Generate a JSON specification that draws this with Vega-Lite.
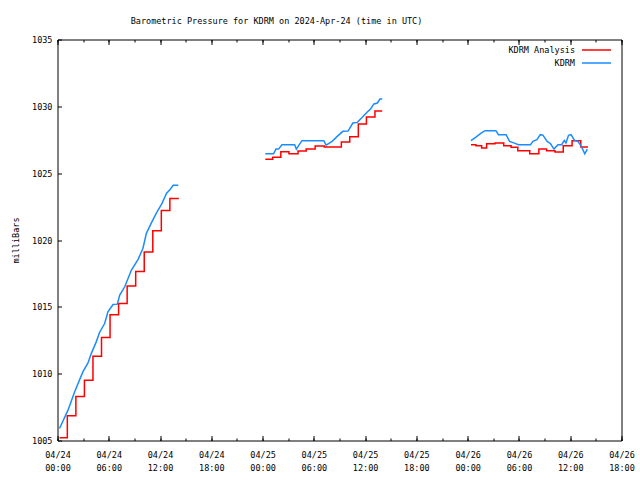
{
  "$schema": "https://vega.github.io/schema/vega-lite/v6.json",
  "width": 564,
  "height": 401,
  "autosize": {"type": "none"},
  "padding": {"left": 57.5, "top": 39.5, "right": 18.5, "bottom": 39.5},
  "background": "white",
  "config": {
    "view": {"stroke": "#000000", "strokeWidth": 1},
    "font": "DejaVu Sans Mono",
    "axis": {
      "labelFont": "DejaVu Sans Mono", "labelFontSize": 8.5, "labelColor": "#000000",
      "tickColor": "#000000", "tickWidth": 1, "domain": false, "grid": false,
      "titleFont": "DejaVu Sans Mono", "titleFontSize": 8.5, "titleFontWeight": "normal", "titleColor": "#000000"
    },
    "legend": {
      "orient": "none", "legendX": 533, "legendY": 4.5, "title": null,
      "symbolType": "M-2.9,0H2.9", "symbolSize": 100, "symbolStrokeWidth": 1.5,
      "labelAlign": "right", "labelOffset": -27.5, "rowPadding": 2,
      "labelFont": "DejaVu Sans Mono", "labelFontSize": 8.5, "labelColor": "#000000", "padding": 0
    }
  },
  "title": {
    "text": "Barometric Pressure for KDRM on 2024-Apr-24 (time in UTC)",
    "font": "DejaVu Sans Mono", "fontSize": 8.5, "fontWeight": "normal", "color": "#000000",
    "anchor": "middle", "dx": -63, "offset": 3, "baseline": "alphabetic"
  },
  "data": {"values": [
    {"time": "2024-04-24T00:14:00Z", "pressure": 1005.2, "series": "KDRM Analysis", "seg": 1},
    {"time": "2024-04-24T01:09:00Z", "pressure": 1006.85, "series": "KDRM Analysis", "seg": 1},
    {"time": "2024-04-24T02:09:00Z", "pressure": 1008.3, "series": "KDRM Analysis", "seg": 1},
    {"time": "2024-04-24T03:09:00Z", "pressure": 1009.5, "series": "KDRM Analysis", "seg": 1},
    {"time": "2024-04-24T04:09:00Z", "pressure": 1011.3, "series": "KDRM Analysis", "seg": 1},
    {"time": "2024-04-24T05:09:00Z", "pressure": 1012.7, "series": "KDRM Analysis", "seg": 1},
    {"time": "2024-04-24T06:09:00Z", "pressure": 1014.4, "series": "KDRM Analysis", "seg": 1},
    {"time": "2024-04-24T07:09:00Z", "pressure": 1015.25, "series": "KDRM Analysis", "seg": 1},
    {"time": "2024-04-24T08:09:00Z", "pressure": 1016.55, "series": "KDRM Analysis", "seg": 1},
    {"time": "2024-04-24T09:09:00Z", "pressure": 1017.65, "series": "KDRM Analysis", "seg": 1},
    {"time": "2024-04-24T10:09:00Z", "pressure": 1019.1, "series": "KDRM Analysis", "seg": 1},
    {"time": "2024-04-24T11:09:00Z", "pressure": 1020.7, "series": "KDRM Analysis", "seg": 1},
    {"time": "2024-04-24T12:09:00Z", "pressure": 1022.2, "series": "KDRM Analysis", "seg": 1},
    {"time": "2024-04-24T13:09:00Z", "pressure": 1023.1, "series": "KDRM Analysis", "seg": 1},
    {"time": "2024-04-24T14:12:00Z", "pressure": 1023.1, "series": "KDRM Analysis", "seg": 1},

    {"time": "2024-04-25T00:19:00Z", "pressure": 1026.05, "series": "KDRM Analysis", "seg": 2},
    {"time": "2024-04-25T01:11:00Z", "pressure": 1026.2, "series": "KDRM Analysis", "seg": 2},
    {"time": "2024-04-25T02:08:00Z", "pressure": 1026.6, "series": "KDRM Analysis", "seg": 2},
    {"time": "2024-04-25T03:05:00Z", "pressure": 1026.45, "series": "KDRM Analysis", "seg": 2},
    {"time": "2024-04-25T04:09:00Z", "pressure": 1026.65, "series": "KDRM Analysis", "seg": 2},
    {"time": "2024-04-25T05:06:00Z", "pressure": 1026.8, "series": "KDRM Analysis", "seg": 2},
    {"time": "2024-04-25T06:09:00Z", "pressure": 1027.03, "series": "KDRM Analysis", "seg": 2},
    {"time": "2024-04-25T07:13:00Z", "pressure": 1026.95, "series": "KDRM Analysis", "seg": 2},
    {"time": "2024-04-25T09:13:00Z", "pressure": 1027.33, "series": "KDRM Analysis", "seg": 2},
    {"time": "2024-04-25T10:12:00Z", "pressure": 1027.73, "series": "KDRM Analysis", "seg": 2},
    {"time": "2024-04-25T11:12:00Z", "pressure": 1028.68, "series": "KDRM Analysis", "seg": 2},
    {"time": "2024-04-25T12:09:00Z", "pressure": 1029.2, "series": "KDRM Analysis", "seg": 2},
    {"time": "2024-04-25T13:09:00Z", "pressure": 1029.65, "series": "KDRM Analysis", "seg": 2},
    {"time": "2024-04-25T14:00:00Z", "pressure": 1029.65, "series": "KDRM Analysis", "seg": 2},

    {"time": "2024-04-26T00:23:00Z", "pressure": 1027.13, "series": "KDRM Analysis", "seg": 3},
    {"time": "2024-04-26T00:58:00Z", "pressure": 1027.05, "series": "KDRM Analysis", "seg": 3},
    {"time": "2024-04-26T01:38:00Z", "pressure": 1026.88, "series": "KDRM Analysis", "seg": 3},
    {"time": "2024-04-26T02:13:00Z", "pressure": 1027.2, "series": "KDRM Analysis", "seg": 3},
    {"time": "2024-04-26T03:12:00Z", "pressure": 1027.25, "series": "KDRM Analysis", "seg": 3},
    {"time": "2024-04-26T04:13:00Z", "pressure": 1027.05, "series": "KDRM Analysis", "seg": 3},
    {"time": "2024-04-26T05:05:00Z", "pressure": 1026.93, "series": "KDRM Analysis", "seg": 3},
    {"time": "2024-04-26T05:52:00Z", "pressure": 1026.68, "series": "KDRM Analysis", "seg": 3},
    {"time": "2024-04-26T07:16:00Z", "pressure": 1026.45, "series": "KDRM Analysis", "seg": 3},
    {"time": "2024-04-26T08:20:00Z", "pressure": 1026.8, "series": "KDRM Analysis", "seg": 3},
    {"time": "2024-04-26T09:14:00Z", "pressure": 1026.68, "series": "KDRM Analysis", "seg": 3},
    {"time": "2024-04-26T10:13:00Z", "pressure": 1026.58, "series": "KDRM Analysis", "seg": 3},
    {"time": "2024-04-26T11:11:00Z", "pressure": 1027.05, "series": "KDRM Analysis", "seg": 3},
    {"time": "2024-04-26T12:13:00Z", "pressure": 1027.43, "series": "KDRM Analysis", "seg": 3},
    {"time": "2024-04-26T13:14:00Z", "pressure": 1026.95, "series": "KDRM Analysis", "seg": 3},
    {"time": "2024-04-26T14:05:00Z", "pressure": 1026.95, "series": "KDRM Analysis", "seg": 3},

    {"time": "2024-04-24T00:14:00Z", "pressure": 1005.9, "series": "KDRM", "seg": 1},
    {"time": "2024-04-24T01:13:00Z", "pressure": 1007.25, "series": "KDRM", "seg": 1},
    {"time": "2024-04-24T02:00:00Z", "pressure": 1008.63, "series": "KDRM", "seg": 1},
    {"time": "2024-04-24T02:58:00Z", "pressure": 1010.13, "series": "KDRM", "seg": 1},
    {"time": "2024-04-24T03:34:00Z", "pressure": 1010.8, "series": "KDRM", "seg": 1},
    {"time": "2024-04-24T03:57:00Z", "pressure": 1011.5, "series": "KDRM", "seg": 1},
    {"time": "2024-04-24T04:32:00Z", "pressure": 1012.38, "series": "KDRM", "seg": 1},
    {"time": "2024-04-24T04:56:00Z", "pressure": 1013.1, "series": "KDRM", "seg": 1},
    {"time": "2024-04-24T05:31:00Z", "pressure": 1013.75, "series": "KDRM", "seg": 1},
    {"time": "2024-04-24T05:54:00Z", "pressure": 1014.63, "series": "KDRM", "seg": 1},
    {"time": "2024-04-24T06:30:00Z", "pressure": 1015.17, "series": "KDRM", "seg": 1},
    {"time": "2024-04-24T07:00:00Z", "pressure": 1015.2, "series": "KDRM", "seg": 1},
    {"time": "2024-04-24T07:17:00Z", "pressure": 1015.88, "series": "KDRM", "seg": 1},
    {"time": "2024-04-24T07:52:00Z", "pressure": 1016.5, "series": "KDRM", "seg": 1},
    {"time": "2024-04-24T08:39:00Z", "pressure": 1017.75, "series": "KDRM", "seg": 1},
    {"time": "2024-04-24T09:26:00Z", "pressure": 1018.55, "series": "KDRM", "seg": 1},
    {"time": "2024-04-24T10:00:00Z", "pressure": 1019.38, "series": "KDRM", "seg": 1},
    {"time": "2024-04-24T10:24:00Z", "pressure": 1020.5, "series": "KDRM", "seg": 1},
    {"time": "2024-04-24T11:00:00Z", "pressure": 1021.3, "series": "KDRM", "seg": 1},
    {"time": "2024-04-24T11:36:00Z", "pressure": 1022.05, "series": "KDRM", "seg": 1},
    {"time": "2024-04-24T12:12:00Z", "pressure": 1022.7, "series": "KDRM", "seg": 1},
    {"time": "2024-04-24T12:46:00Z", "pressure": 1023.5, "series": "KDRM", "seg": 1},
    {"time": "2024-04-24T13:09:00Z", "pressure": 1023.75, "series": "KDRM", "seg": 1},
    {"time": "2024-04-24T13:32:00Z", "pressure": 1024.1, "series": "KDRM", "seg": 1},
    {"time": "2024-04-24T14:08:00Z", "pressure": 1024.1, "series": "KDRM", "seg": 1},

    {"time": "2024-04-25T00:19:00Z", "pressure": 1026.45, "series": "KDRM", "seg": 2},
    {"time": "2024-04-25T01:17:00Z", "pressure": 1026.45, "series": "KDRM", "seg": 2},
    {"time": "2024-04-25T01:34:00Z", "pressure": 1026.8, "series": "KDRM", "seg": 2},
    {"time": "2024-04-25T01:52:00Z", "pressure": 1026.8, "series": "KDRM", "seg": 2},
    {"time": "2024-04-25T02:16:00Z", "pressure": 1027.13, "series": "KDRM", "seg": 2},
    {"time": "2024-04-25T03:45:00Z", "pressure": 1027.13, "series": "KDRM", "seg": 2},
    {"time": "2024-04-25T03:57:00Z", "pressure": 1026.8, "series": "KDRM", "seg": 2},
    {"time": "2024-04-25T04:36:00Z", "pressure": 1027.43, "series": "KDRM", "seg": 2},
    {"time": "2024-04-25T07:10:00Z", "pressure": 1027.43, "series": "KDRM", "seg": 2},
    {"time": "2024-04-25T07:26:00Z", "pressure": 1027.1, "series": "KDRM", "seg": 2},
    {"time": "2024-04-25T08:08:00Z", "pressure": 1027.38, "series": "KDRM", "seg": 2},
    {"time": "2024-04-25T08:44:00Z", "pressure": 1027.75, "series": "KDRM", "seg": 2},
    {"time": "2024-04-25T09:24:00Z", "pressure": 1028.13, "series": "KDRM", "seg": 2},
    {"time": "2024-04-25T10:00:00Z", "pressure": 1028.15, "series": "KDRM", "seg": 2},
    {"time": "2024-04-25T10:34:00Z", "pressure": 1028.75, "series": "KDRM", "seg": 2},
    {"time": "2024-04-25T11:05:00Z", "pressure": 1028.8, "series": "KDRM", "seg": 2},
    {"time": "2024-04-25T11:40:00Z", "pressure": 1029.18, "series": "KDRM", "seg": 2},
    {"time": "2024-04-25T12:15:00Z", "pressure": 1029.58, "series": "KDRM", "seg": 2},
    {"time": "2024-04-25T12:38:00Z", "pressure": 1029.8, "series": "KDRM", "seg": 2},
    {"time": "2024-04-25T13:02:00Z", "pressure": 1030.18, "series": "KDRM", "seg": 2},
    {"time": "2024-04-25T13:26:00Z", "pressure": 1030.25, "series": "KDRM", "seg": 2},
    {"time": "2024-04-25T13:44:00Z", "pressure": 1030.55, "series": "KDRM", "seg": 2},
    {"time": "2024-04-25T14:00:00Z", "pressure": 1030.55, "series": "KDRM", "seg": 2},

    {"time": "2024-04-26T00:23:00Z", "pressure": 1027.43, "series": "KDRM", "seg": 3},
    {"time": "2024-04-26T00:58:00Z", "pressure": 1027.7, "series": "KDRM", "seg": 3},
    {"time": "2024-04-26T01:34:00Z", "pressure": 1028.0, "series": "KDRM", "seg": 3},
    {"time": "2024-04-26T02:02:00Z", "pressure": 1028.18, "series": "KDRM", "seg": 3},
    {"time": "2024-04-26T03:18:00Z", "pressure": 1028.18, "series": "KDRM", "seg": 3},
    {"time": "2024-04-26T03:36:00Z", "pressure": 1027.88, "series": "KDRM", "seg": 3},
    {"time": "2024-04-26T04:30:00Z", "pressure": 1027.88, "series": "KDRM", "seg": 3},
    {"time": "2024-04-26T04:54:00Z", "pressure": 1027.38, "series": "KDRM", "seg": 3},
    {"time": "2024-04-26T05:28:00Z", "pressure": 1027.25, "series": "KDRM", "seg": 3},
    {"time": "2024-04-26T05:56:00Z", "pressure": 1027.13, "series": "KDRM", "seg": 3},
    {"time": "2024-04-26T07:21:00Z", "pressure": 1027.13, "series": "KDRM", "seg": 3},
    {"time": "2024-04-26T07:38:00Z", "pressure": 1027.38, "series": "KDRM", "seg": 3},
    {"time": "2024-04-26T08:06:00Z", "pressure": 1027.5, "series": "KDRM", "seg": 3},
    {"time": "2024-04-26T08:30:00Z", "pressure": 1027.88, "series": "KDRM", "seg": 3},
    {"time": "2024-04-26T08:48:00Z", "pressure": 1027.85, "series": "KDRM", "seg": 3},
    {"time": "2024-04-26T09:18:00Z", "pressure": 1027.38, "series": "KDRM", "seg": 3},
    {"time": "2024-04-26T09:42:00Z", "pressure": 1027.2, "series": "KDRM", "seg": 3},
    {"time": "2024-04-26T10:06:00Z", "pressure": 1026.8, "series": "KDRM", "seg": 3},
    {"time": "2024-04-26T10:34:00Z", "pressure": 1027.13, "series": "KDRM", "seg": 3},
    {"time": "2024-04-26T11:00:00Z", "pressure": 1027.13, "series": "KDRM", "seg": 3},
    {"time": "2024-04-26T11:18:00Z", "pressure": 1027.45, "series": "KDRM", "seg": 3},
    {"time": "2024-04-26T11:30:00Z", "pressure": 1027.25, "series": "KDRM", "seg": 3},
    {"time": "2024-04-26T11:48:00Z", "pressure": 1027.83, "series": "KDRM", "seg": 3},
    {"time": "2024-04-26T12:06:00Z", "pressure": 1027.88, "series": "KDRM", "seg": 3},
    {"time": "2024-04-26T12:30:00Z", "pressure": 1027.45, "series": "KDRM", "seg": 3},
    {"time": "2024-04-26T12:54:00Z", "pressure": 1027.38, "series": "KDRM", "seg": 3},
    {"time": "2024-04-26T13:18:00Z", "pressure": 1027.0, "series": "KDRM", "seg": 3},
    {"time": "2024-04-26T13:42:00Z", "pressure": 1026.45, "series": "KDRM", "seg": 3},
    {"time": "2024-04-26T14:00:00Z", "pressure": 1026.8, "series": "KDRM", "seg": 3}
  ]},
  "encoding": {
    "y": {
      "field": "pressure", "type": "quantitative",
      "scale": {"domain": [1005, 1035], "nice": false, "zero": false},
      "axis": {
        "values": [1005, 1010, 1015, 1020, 1025, 1030, 1035], "format": "d",
        "tickSize": 4, "offset": -4, "labelPadding": 5.5, "labelFlush": false, "labelOverlap": false,
        "labelBaseline": "middle", "labelAlign": "right",
        "title": "milliBars", "titleAngle": -90, "titleX": -46, "titleY": 200.5,
        "titleAlign": "center", "titleBaseline": "middle"
      }
    },
    "color": {
      "field": "series", "type": "nominal",
      "scale": {"domain": ["KDRM Analysis", "KDRM"], "range": ["#ff0000", "#1a8cff"]}
    }
  },
  "layer": [
    {
      "transform": [{"filter": "datum.series == 'KDRM Analysis'"}],
      "mark": {"type": "line", "interpolate": "step-after", "strokeWidth": 1.5},
      "encoding": {
        "detail": {"field": "seg", "type": "nominal"},
        "x": {
          "field": "time", "type": "temporal",
          "scale": {"type": "utc", "domain": [1713916800000, 1714154400000]},
          "axis": {
            "orient": "bottom", "tickCount": 11,
            "labelExpr": "[utcFormat(datum.value, '%m/%d'), utcFormat(datum.value, '%H:%M')]",
            "labelBaseline": "top", "labelAlign": "center", "labelFlush": false, "labelOverlap": false,
            "labelLineHeight": 13, "tickSize": 5, "offset": -5, "labelPadding": 10, "title": null
          }
        }
      }
    },
    {
      "transform": [{"filter": "datum.series == 'KDRM' && datum.seg == 1"}],
      "mark": {"type": "line", "strokeWidth": 1.5},
      "encoding": {
        "x": {
          "field": "time", "type": "temporal",
          "scale": {"type": "utc", "domain": [1713916800000, 1714154400000]},
          "axis": {"orient": "bottom", "tickCount": 33, "labels": false, "tickSize": 2.5, "offset": -2.5, "title": null}
        }
      }
    },
    {
      "transform": [{"filter": "datum.series == 'KDRM' && datum.seg == 2"}],
      "mark": {"type": "line", "strokeWidth": 1.5},
      "encoding": {
        "x": {
          "field": "time", "type": "temporal",
          "scale": {"type": "utc", "domain": [1713916800000, 1714154400000]},
          "axis": {"orient": "top", "tickCount": 11, "labels": false, "tickSize": 5, "offset": -5, "title": null}
        }
      }
    },
    {
      "transform": [{"filter": "datum.series == 'KDRM' && datum.seg == 3"}],
      "mark": {"type": "line", "strokeWidth": 1.5},
      "encoding": {
        "x": {
          "field": "time", "type": "temporal",
          "scale": {"type": "utc", "domain": [1713916800000, 1714154400000]},
          "axis": {"orient": "top", "tickCount": 33, "labels": false, "tickSize": 2.5, "offset": -2.5, "title": null}
        }
      }
    }
  ],
  "resolve": {"axis": {"x": "independent"}}
}
